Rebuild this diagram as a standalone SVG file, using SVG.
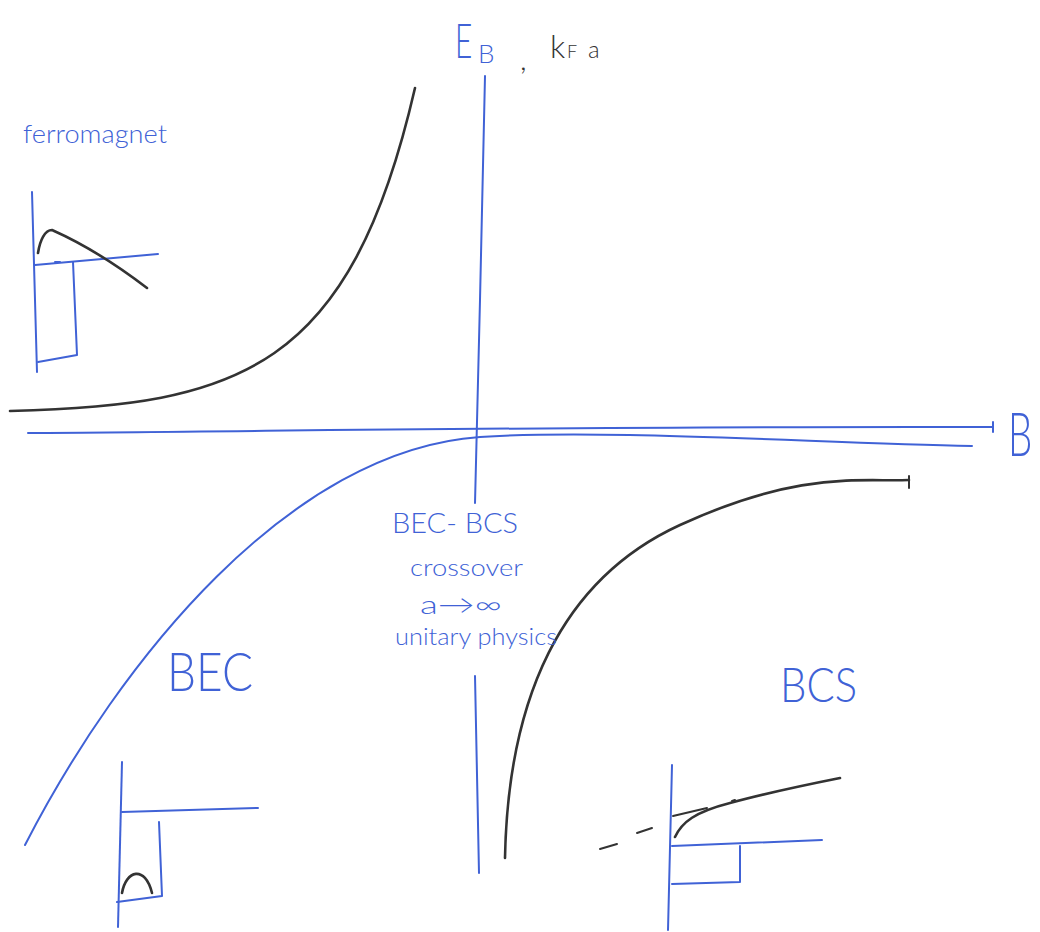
<svg xmlns="http://www.w3.org/2000/svg" width="1040" height="932" viewBox="0 0 1040 932">
<style>
.blue{fill:none;stroke:#4062d6;stroke-width:2;stroke-linecap:round;stroke-linejoin:round}
.ink{fill:none;stroke:#333;stroke-width:2.6;stroke-linecap:round;stroke-linejoin:round}
.thin{fill:none;stroke:#333;stroke-width:2;stroke-linecap:round}
.bt{fill:#4062d6;font-family:Lato,"Liberation Sans",Arial,sans-serif;font-weight:300}
.kt{fill:#333;font-family:Lato,"Liberation Sans",Arial,sans-serif;font-weight:300}
</style>
<rect width="1040" height="932" fill="#fff"/>
<g id="axes">
  <path class="blue" d="M485,76 L480,300 L475,503"/>
  <path class="blue" d="M475,676 L479,873"/>
  <path class="blue" d="M28,433 C300,431 600,426 993,427"/>
  <path class="blue" d="M993,422 L993,432"/>
</g>
<g id="curves">
  <path id="curve-ferromagnet" class="ink" d="M10,411 C240,405 350,370 415,88"/>
  <path id="curve-bec" class="blue" d="M25,845 C120,660 290,450 480,437 C600,429 800,442 972,446"/>
  <path id="curve-bcs" class="ink" d="M505,858 C508,700 560,580 680,525 S860,482 909,480"/>
  <path class="thin" d="M909,476 L909,488"/>
</g>
<g id="inset-ferromagnet">
  <path class="blue" d="M32,192 L37,372"/>
  <path class="blue" d="M35,265 L158,254"/>
  <path class="blue" d="M55,262 L60,262"/>
  <path class="blue" d="M73,262 L77,355 L38,362"/>
  <path class="ink" d="M38,253 C40,240 45,230 52,230 C70,238 100,252 147,288"/>
</g>
<g id="inset-bec">
  <path class="blue" d="M122,762 L118,927"/>
  <path class="blue" d="M122,812 L258,808"/>
  <path class="blue" d="M159,822 L162,896 L117,902"/>
  <path class="ink" d="M122,893 C126,870 145,865 152,893"/>
</g>
<g id="inset-bcs">
  <path class="blue" d="M672,765 L668,930"/>
  <path class="blue" d="M672,846 L822,840"/>
  <path class="blue" d="M740,846 L740,882 L672,884"/>
  <path class="ink" d="M675,837 C682,822 695,812 730,803 C770,792 805,785 840,778"/>
  <path class="thin" d="M600,849 L617,844 M637,833 L652,828 M673,816 L707,808 M732,801 L735,800"/>
</g>
<g id="labels">
  <text class="bt" transform="translate(455,58) scale(0.62,1)" font-size="48">E</text>
  <text class="bt" x="478" y="63" font-size="26">B</text>
  <text class="kt" x="520" y="70" font-size="30">,</text>
  <text class="kt" x="550" y="58" font-size="32">k</text>
  <text class="kt" x="567" y="58" font-size="18">F</text>
  <text class="kt" x="588" y="58" font-size="24">a</text>
  <text class="bt" transform="translate(1008,456) scale(0.62,1)" font-size="62">B</text>
  <text class="bt" x="23" y="143" font-size="26" textLength="144" lengthAdjust="spacingAndGlyphs">ferromagnet</text>
  <text class="bt" x="167" y="691" font-size="54" textLength="86" lengthAdjust="spacingAndGlyphs">BEC</text>
  <text class="bt" x="780" y="702" font-size="48" textLength="77" lengthAdjust="spacingAndGlyphs">BCS</text>
  <text class="bt" x="392" y="533" font-size="27" textLength="126" lengthAdjust="spacingAndGlyphs">BEC- BCS</text>
  <text class="bt" x="410" y="576" font-size="24" textLength="113" lengthAdjust="spacingAndGlyphs">crossover</text>
  <text class="bt" x="420" y="614" font-size="26" textLength="82" lengthAdjust="spacingAndGlyphs">a→∞</text>
  <text class="bt" x="395" y="645" font-size="24" textLength="162" lengthAdjust="spacingAndGlyphs">unitary physics</text>
</g>
</svg>
